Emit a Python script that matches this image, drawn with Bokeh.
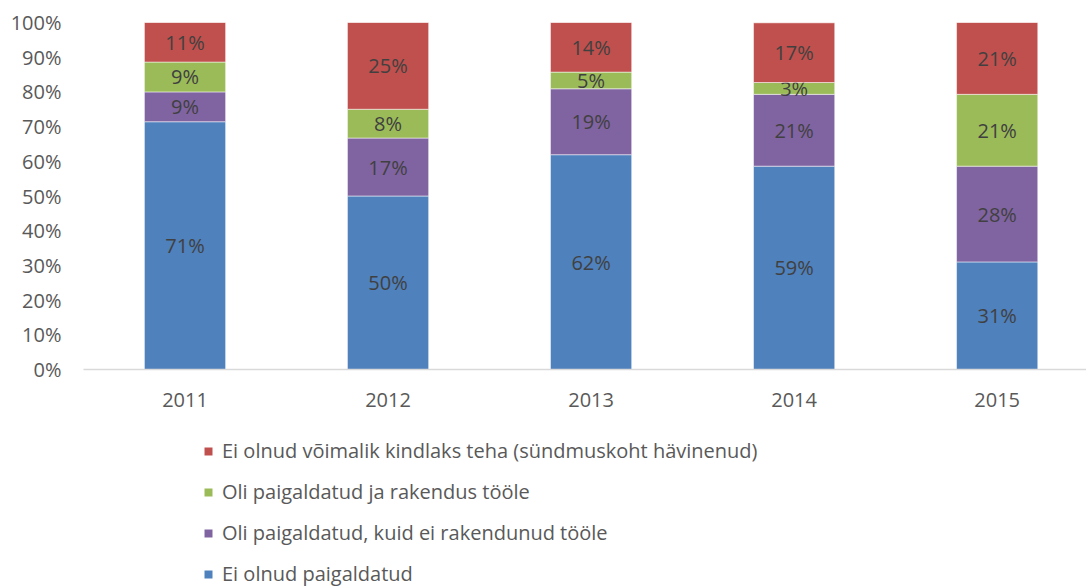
from bokeh.plotting import figure
from bokeh.models import ColumnDataSource, Legend, LegendItem, FixedTicker, Range1d
from bokeh.layouts import column
from bokeh.core.properties import value
from bokeh.embed import file_html
from bokeh.resources import INLINE

years = ["2011", "2012", "2013", "2014", "2015"]
series_names = [
    "Ei olnud paigaldatud",
    "Oli paigaldatud, kuid ei rakendunud tööle",
    "Oli paigaldatud ja rakendus tööle",
    "Ei olnud võimalik kindlaks teha (sündmuskoht hävinenud)",
]
ei_paigaldatud = [71.4, 50.0, 61.9, 58.6, 31.0]
ei_rakendunud = [8.6, 16.7, 19.0, 20.7, 27.6]
rakendus = [8.6, 8.3, 4.8, 3.4, 20.7]
ei_teada = [11.4, 25.0, 14.3, 17.2, 20.7]
colors = ["#4f81bd", "#8064a2", "#9bbb59", "#c0504d"]
y_ticks = [0, 10, 20, 30, 40, 50, 60, 70, 80, 90, 100]

FONT = "Open Sans"
FS = "20px"

p = figure(width=1086, height=418, output_backend="svg", toolbar_location=None,
           x_range=Range1d(-0.5, 4.44), y_range=Range1d(0, 100),
           min_border_left=83, min_border_right=0, min_border_top=22, min_border_bottom=49)
p.outline_line_color = None
p.xgrid.visible = False
p.ygrid.visible = False

xs = list(range(len(years)))
series = [ei_paigaldatud, ei_rakendunud, rakendus, ei_teada]
bottom = [0.0] * len(years)
for vals, col in zip(series, colors):
    top = [b + v for b, v in zip(bottom, vals)]
    src = ColumnDataSource(dict(
        x=xs, bottom=bottom, top=top,
        mid=[(b + t) / 2 for b, t in zip(bottom, top)],
        label=[f"{round(v)}%" for v in vals],
    ))
    p.vbar(x="x", bottom="bottom", top="top", width=0.4, source=src,
           fill_color=col, line_color="white", line_width=1, line_alpha=0.5)
    p.text(x="x", y="mid", text="label", source=src, text_align="center",
           text_baseline="middle", text_font=value(FONT), text_font_size=FS,
           text_color="#404040")
    bottom = top

p.xaxis.ticker = FixedTicker(ticks=xs)
p.xaxis.major_label_overrides = {i: y for i, y in enumerate(years)}
p.xaxis.axis_line_color = "#d9d9d9"
p.xaxis.axis_line_width = 1.5
p.xaxis.major_tick_line_color = None
p.xaxis.minor_tick_line_color = None
p.xaxis.major_label_text_font = FONT
p.xaxis.major_label_text_font_size = FS
p.xaxis.major_label_text_color = "#595959"
p.xaxis.major_label_standoff = 17

p.yaxis.ticker = FixedTicker(ticks=y_ticks)
p.yaxis.major_label_overrides = {t: f"{t}%" for t in y_ticks}
p.yaxis.axis_line_color = None
p.yaxis.major_tick_line_color = None
p.yaxis.minor_tick_line_color = None
p.yaxis.major_label_text_font = FONT
p.yaxis.major_label_text_font_size = FS
p.yaxis.major_label_text_color = "#595959"
p.yaxis.major_label_standoff = 16

# legend figure
lg = figure(width=1086, height=169, output_backend="svg", toolbar_location=None,
            x_range=Range1d(0, 1), y_range=Range1d(0, 1),
            x_axis_location=None, y_axis_location=None,
            min_border_left=0, min_border_right=0, min_border_top=0, min_border_bottom=0)
lg.outline_line_color = None
lg.xgrid.visible = False
lg.ygrid.visible = False
dummies = []
for col in colors:
    dummies.append(lg.vbar(x=[0.5], top=[0], bottom=[0], width=0.1,
                           fill_color=col, line_color=None))

items = [LegendItem(label=n, renderers=[r]) for n, r in zip(series_names[::-1], dummies[::-1])]
legend = Legend(items=items, location=(120, 0), orientation="vertical",
                label_text_font=FONT, label_text_font_size=FS, label_text_color="#595959",
                glyph_width=10, glyph_height=10, label_standoff=9, label_height=20,
                spacing=14, padding=0, margin=0, border_line_color=None,
                background_fill_alpha=0)
lg.add_layout(legend)

layout = column(p, lg, spacing=0)
open("out.html", "w").write(file_html(layout, INLINE))
